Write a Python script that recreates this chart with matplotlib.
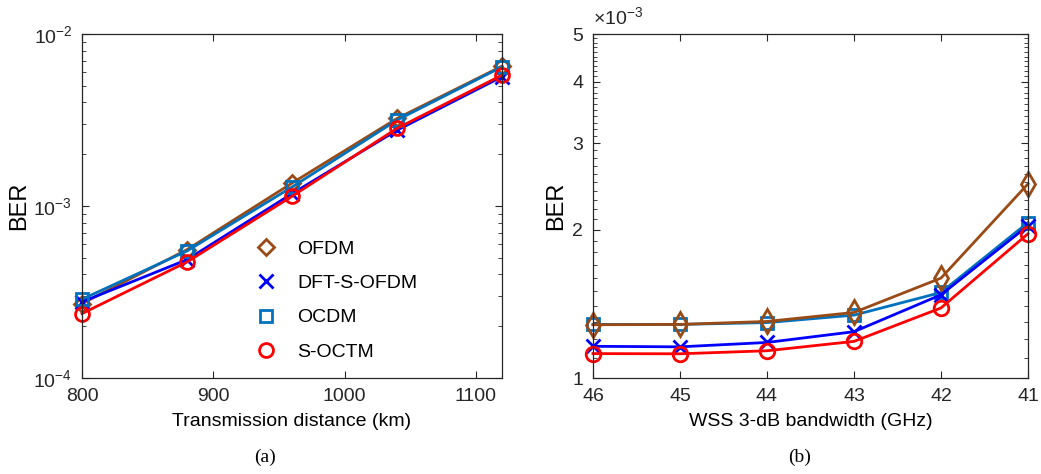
import numpy as np
import matplotlib
matplotlib.use('Agg')
import matplotlib.pyplot as plt
from matplotlib.ticker import FixedLocator, NullFormatter, FuncFormatter
from matplotlib.lines import Line2D

# DATA
labels = ['OFDM', 'DFT-S-OFDM', 'OCDM', 'S-OCTM']

dist_km = [800, 880, 960, 1040, 1120]
ber_dist_ofdm = [2.71e-4, 5.58e-4, 1.36e-3, 3.23e-3, 6.51e-3]
ber_dist_dft = [2.77e-4, 4.88e-4, 1.18e-3, 2.76e-3, 5.65e-3]
ber_dist_ocdm = [2.87e-4, 5.48e-4, 1.29e-3, 3.16e-3, 6.45e-3]
ber_dist_soctm = [2.37e-4, 4.73e-4, 1.14e-3, 2.83e-3, 5.77e-3]

bw_ghz = [46, 45, 44, 43, 42, 41]
ber_bw_ofdm = [1.283e-3, 1.285e-3, 1.303e-3, 1.359e-3, 1.596e-3, 2.48e-3]
ber_bw_dft = [1.160e-3, 1.157e-3, 1.181e-3, 1.242e-3, 1.476e-3, 2.04e-3]
ber_bw_ocdm = [1.285e-3, 1.285e-3, 1.296e-3, 1.342e-3, 1.492e-3, 2.07e-3]
ber_bw_soctm = [1.121e-3, 1.120e-3, 1.136e-3, 1.187e-3, 1.388e-3, 1.964e-3]

# STYLE
colors = ['#9a4a14', '#0000ff', '#0072bd', '#ff0000']
markers_a = ['D', 'x', 's', 'o']
markers_b = ['d', 'x', 's', 'o']
msizes_a = [8, 10, 9, 10]
msizes_b = [12.5, 10, 9, 10.5]
plt.rcParams['font.family'] = ['Liberation Sans', 'DejaVu Sans']
plt.rcParams['mathtext.fontset'] = 'custom'
plt.rcParams['mathtext.rm'] = 'Liberation Sans'
tick_col = '#262626'

fig = plt.figure(figsize=(10.41, 4.74), dpi=100)
ax1 = fig.add_axes([0.0788, 0.2025, 0.4035, 0.7257])
ax2 = fig.add_axes([0.5696, 0.2025, 0.4179, 0.7257])


def style_axis(ax):
    ax.tick_params(which='both', direction='in', top=True, right=True,
                   labelsize=14, labelcolor=tick_col, color=tick_col)
    ax.tick_params(which='major', length=5, width=0.8, pad=7)
    ax.tick_params(which='minor', length=3, width=0.6)
    for s in ax.spines.values():
        s.set_color(tick_col)
        s.set_linewidth(0.9)


# PANEL (a)
ys_a = [ber_dist_ofdm, ber_dist_dft, ber_dist_ocdm, ber_dist_soctm]
for y, c, m, ms in zip(ys_a, colors, markers_a, msizes_a):
    ax1.plot(dist_km, y, color=c, marker=m, ms=ms, mfc='none', mew=2, lw=2,
             clip_on=False)
ax1.set_yscale('log')
ax1.set_xlim(800, 1120)
ax1.set_ylim(1e-4, 1e-2)
ax1.set_xticks([800, 900, 1000, 1100])
ax1.set_yticks([1e-4, 1e-3, 1e-2])
ax1.yaxis.set_minor_locator(FixedLocator(
    [k * 10.0 ** e for e in (-4, -3) for k in range(2, 10)]))
ax1.yaxis.set_minor_formatter(NullFormatter())
ax1.set_xlabel('Transmission distance (km)', fontsize=14, labelpad=6)
ax1.set_ylabel('BER', fontsize=17, labelpad=2)
style_axis(ax1)

handles = [Line2D([], [], color=c, marker=m, ms=ms, mfc='none', mew=2, ls='none')
           for c, m, ms in zip(colors, markers_a, msizes_a)]
ax1.legend(handles, labels, loc='lower left', bbox_to_anchor=(0.35, 0.0),
           frameon=False, fontsize=14, handletextpad=0.6, labelspacing=0.85)

# PANEL (b)
ys_b = [ber_bw_ofdm, ber_bw_dft, ber_bw_ocdm, ber_bw_soctm]
order = [2, 0, 1, 3]
for i in order:
    ax2.plot(bw_ghz, ys_b[i], color=colors[i], marker=markers_b[i], ms=msizes_b[i],
             mfc='none', mew=2, lw=2, clip_on=False)
ax2.set_yscale('log')
ax2.set_xlim(46, 41)
ax2.set_ylim(1e-3, 5e-3)
ax2.set_xticks(bw_ghz)
ax2.yaxis.set_major_locator(FixedLocator([1e-3, 2e-3, 3e-3, 4e-3, 5e-3]))
ax2.yaxis.set_major_formatter(FuncFormatter(lambda v, p: '%d' % round(v * 1e3)))
ax2.yaxis.set_minor_locator(FixedLocator(
    [k * 1e-4 for k in range(11, 50) if k % 10 != 0]))
ax2.yaxis.set_minor_formatter(NullFormatter())
ax2.set_xlabel('WSS 3-dB bandwidth (GHz)', fontsize=14, labelpad=6)
ax2.set_ylabel('BER', fontsize=17, labelpad=4)
style_axis(ax2)
ax2.text(0.0, 1.015, r'$\times10^{-3}$', transform=ax2.transAxes,
         fontsize=14, color=tick_col, ha='left', va='bottom')

# SUBFIGURE LABELS
fig.text(0.2545, 0.025, '(a)', fontsize=14, family='Liberation Serif', ha='center')
fig.text(0.7685, 0.025, '(b)', fontsize=14, family='Liberation Serif', ha='center')

plt.savefig('out.png', dpi=100)
plt.close()
